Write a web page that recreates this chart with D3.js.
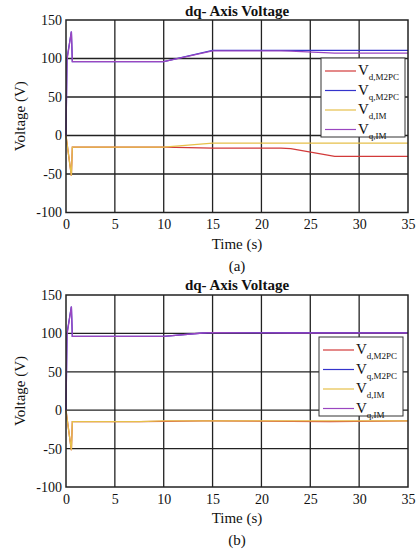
<!DOCTYPE html>
<html>
<head>
<meta charset="utf-8">
<script src="https://cdn.jsdelivr.net/npm/d3@7/dist/d3.min.js"></script>
<style>
  body { margin: 0; background: #fff; }
  svg text { font-family: "Times New Roman", "Liberation Serif", "DejaVu Serif", serif; fill: #111; }
</style>
</head>
<body>
<svg width="417" height="550"></svg>
<script>
// shared axis stuff
const xTicks = [0, 5, 10, 15, 20, 25, 30, 35];
const yTicks = [150, 100, 50, 0, -50, -100];
const seriesNames = ["d,M2PC", "q,M2PC", "d,IM", "q,IM"];
const seriesColors = ["#d23a3a", "#3434cc", "#e6c04a", "#9a46c0"];

// panel (a)
const timeA    = [0, 0.1, 0.55, 0.65, 10, 15, 22, 23, 27.5, 35];
const vdM2pcA  = [0, -10, -52, -15, -15, -16.5, -16.5, -17, -27, -27];
const vqM2pcA  = [0, 100, 135, 96, 96, 110.5, 110.5, 110.5, 110.5, 110.5];
const vdImA    = [0, -10, -52, -15, -15, -10, -10, -10, -10, -10];
const vqImA    = [0, 98, 135, 96, 96, 110, 110, 109.5, 107, 107];

// panel (b)
const timeB    = [0, 0.1, 0.55, 0.65, 7.5, 10, 14, 15, 23, 27, 35];
const vdM2pcB  = [0, -10, -52, -15, -15, -14.5, -14, -14, -14.5, -15, -14];
const vqM2pcB  = [0, 100, 135, 96, 96, 96, 100.5, 101, 101, 101, 101];
const vdImB    = [0, -10, -52, -15, -15, -14, -14, -14, -14, -14, -14];
const vqImB    = [0, 98, 135, 96, 96, 96, 100.5, 101, 100.5, 100.5, 100.5];

const svg = d3.select("svg");

function drawPanel({ top, bottom, titleY, tag, tagY, time, series, legend }) {
  const x = d3.scaleLinear().domain([0, 35]).range([66, 408]);
  const y = d3.scaleLinear().domain([-100, 150]).range([bottom, top]);
  const g = svg.append("g");

  // grid
  g.append("g").selectAll("line").data(xTicks.slice(1, -1)).enter().append("line")
    .attr("x1", d => x(d)).attr("x2", d => x(d))
    .attr("y1", top).attr("y2", bottom)
    .attr("stroke", "#222").attr("stroke-width", 1.3);
  g.append("g").selectAll("line").data(yTicks.slice(1, -1)).enter().append("line")
    .attr("x1", 66).attr("x2", 408)
    .attr("y1", d => y(d)).attr("y2", d => y(d))
    .attr("stroke", "#222").attr("stroke-width", 1.3);

  // data lines
  const line = d3.line().x((d, i) => x(time[i])).y(d => y(d));
  series.forEach((s, k) => {
    g.append("path").datum(s)
      .attr("d", line)
      .attr("fill", "none")
      .attr("stroke", seriesColors[k])
      .attr("stroke-width", 1.3);
  });

  // frame
  g.append("rect").attr("x", 66).attr("y", top)
    .attr("width", 342).attr("height", bottom - top)
    .attr("fill", "none").attr("stroke", "#222").attr("stroke-width", 1.5);

  // axes, hyphen minus like the original figure
  const xAxis = g.append("g").attr("transform", `translate(0,${bottom})`)
    .call(d3.axisBottom(x).tickValues(xTicks).tickSize(0).tickPadding(7).tickFormat(d => String(d)));
  const yAxis = g.append("g").attr("transform", "translate(66,0)")
    .call(d3.axisLeft(y).tickValues(yTicks).tickSize(0).tickPadding(4).tickFormat(d => String(d)));
  [xAxis, yAxis].forEach(a => {
    a.attr("font-family", null);
    a.select(".domain").remove();
    a.selectAll("text").attr("font-size", 14).attr("fill", "#333");
  });

  g.append("text").attr("x", 237).attr("y", titleY)
    .attr("text-anchor", "middle").attr("font-size", 15).attr("font-weight", "bold")
    .text("dq- Axis Voltage");
  g.append("text").attr("x", 237).attr("y", bottom + 36)
    .attr("text-anchor", "middle").attr("font-size", 15)
    .text("Time (s)");
  g.append("text").attr("x", 237).attr("y", tagY)
    .attr("text-anchor", "middle").attr("font-size", 15)
    .text(tag);
  g.append("text")
    .attr("transform", `translate(25,${(top + bottom) / 2}) rotate(-90)`)
    .attr("text-anchor", "middle").attr("font-size", 15)
    .text("Voltage (V)");

  // legend
  const lg = g.append("g").attr("transform", `translate(${legend.x},${legend.y})`);
  lg.append("rect").attr("width", 84).attr("height", 79)
    .attr("fill", "#fff").attr("stroke", "#333").attr("stroke-width", 1);
  seriesNames.forEach((name, k) => {
    const cy = 13 + k * 19.5;
    lg.append("line").attr("x1", 4).attr("x2", 35).attr("y1", cy).attr("y2", cy)
      .attr("stroke", seriesColors[k]).attr("stroke-width", 1.2);
    const t = lg.append("text").attr("x", 37).attr("y", cy + 4).attr("font-size", 15);
    t.append("tspan").text("V");
    t.append("tspan").attr("dy", 5).attr("font-size", 9).text(name);
  });
}

drawPanel({
  top: 20, bottom: 212.5, titleY: 16, tag: "(a)", tagY: 271,
  time: timeA, series: [vdM2pcA, vqM2pcA, vdImA, vqImA],
  legend: { x: 321, y: 58 }
});
drawPanel({
  top: 295, bottom: 487, titleY: 290, tag: "(b)", tagY: 545,
  time: timeB, series: [vdM2pcB, vqM2pcB, vdImB, vqImB],
  legend: { x: 319, y: 337 }
});
</script>
</body>
</html>
